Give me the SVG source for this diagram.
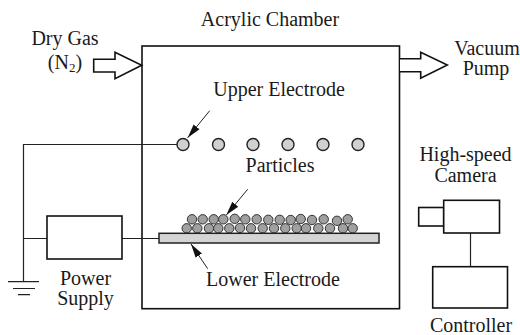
<svg xmlns="http://www.w3.org/2000/svg" width="520" height="335" viewBox="0 0 520 335">
<style>
text{font-family:"Liberation Serif","Times New Roman",serif;font-size:20px;fill:#1a1a1a;text-anchor:middle}
.box{fill:#fff;stroke:#111;stroke-width:1.6}
.line{fill:none;stroke:#222;stroke-width:1.2}
.ue{fill:#d0d0d0;stroke:#222;stroke-width:1.4}
.p{fill:#a0a0a0;stroke:#333;stroke-width:1}
.ptr{fill:none;stroke:#222;stroke-width:1;marker-end:url(#ah)}
</style>
<defs>
<marker id="ah" markerUnits="userSpaceOnUse" markerWidth="16" markerHeight="10" refX="14" refY="5" orient="auto"><path d="M0 1.2L14 5L0 8.8Z" fill="#111"/></marker>
<circle id="pc" r="4.7" class="p"/>
</defs>
<g id="chamber"><rect class="box" x="142" y="46" width="257.5" height="262.7"/><text x="270" y="26">Acrylic Chamber</text></g>
<g id="connectors">
<path class="line" d="M177 144.5H23.5V281.5M23.5 238.5H47M122 238.5H159M470.5 233V266.7"/>
<path class="line" d="M8 281.7H39M13 288.5H35M18 294.6H30"/>
<path class="ptr" d="M209.7 110.7L187.7 137.7"/>
<path class="ptr" d="M247.7 189.3L226.3 215"/>
<path class="ptr" d="M207.7 268.7L191 244"/>
</g>
<g id="dry-gas"><path d="M93.7 59.3H115V52.3L141.7 65.3L115 78.7V72H93.7Z" fill="#fff" stroke="#111" stroke-width="1.6"/><text x="65" y="44.5">Dry Gas</text><text x="65" y="68.5">(N<tspan font-size="13" dy="3">2</tspan><tspan dy="-3">)</tspan></text></g>
<g id="vacuum-pump"><path d="M400 58.7H420.7V52.3L447.3 65L420.7 78.3V71.7H400" fill="#fff" stroke="#111" stroke-width="1.6"/><text x="487" y="55">Vacuum</text><text x="486" y="75">Pump</text></g>
<g id="upper-electrode">
<circle class="ue" cx="183" cy="144.5" r="6"/><circle class="ue" cx="218.5" cy="144.5" r="6"/><circle class="ue" cx="253" cy="144.5" r="6"/><circle class="ue" cx="288" cy="144.5" r="6"/><circle class="ue" cx="323" cy="144.5" r="6"/><circle class="ue" cx="358" cy="144.5" r="6"/>
<text x="279" y="96">Upper Electrode</text></g>
<g id="particles">
<use href="#pc" x="192" y="219.3"/><use href="#pc" x="202.7" y="219.3"/><use href="#pc" x="213.7" y="219.3"/><use href="#pc" x="223.3" y="219.3"/><use href="#pc" x="234.7" y="218.8"/><use href="#pc" x="245.3" y="219.3"/><use href="#pc" x="256.7" y="219.3"/><use href="#pc" x="268.3" y="219.8"/><use href="#pc" x="279.7" y="219.8"/><use href="#pc" x="290.7" y="220"/><use href="#pc" x="300.7" y="219"/><use href="#pc" x="312" y="220"/><use href="#pc" x="323.7" y="219.3"/><use href="#pc" x="337" y="220.8"/><use href="#pc" x="347.7" y="219.3"/>
<use href="#pc" x="186.7" y="228.3"/><use href="#pc" x="197.3" y="228.3"/><use href="#pc" x="209" y="228.3"/><use href="#pc" x="218.3" y="228.3"/><use href="#pc" x="229.3" y="228.3"/><use href="#pc" x="240" y="228"/><use href="#pc" x="251" y="228.3"/><use href="#pc" x="262.7" y="228.3"/><use href="#pc" x="274" y="228.3"/><use href="#pc" x="285.3" y="228.3"/><use href="#pc" x="296.7" y="228.3"/><use href="#pc" x="306" y="228.3"/><use href="#pc" x="318.3" y="228.3"/><use href="#pc" x="330" y="228.3"/><use href="#pc" x="343" y="228.3"/><use href="#pc" x="352.7" y="228.3"/>
<text x="280" y="172">Particles</text></g>
<g id="lower-electrode"><rect x="159" y="233.3" width="220" height="9.7" fill="#d4d4d4" stroke="#222" stroke-width="1.5"/><text x="273" y="286">Lower Electrode</text></g>
<g id="power-supply"><rect class="box" x="47" y="216" width="75" height="43"/><text x="85.5" y="284.5">Power</text><text x="85.5" y="304.5">Supply</text></g>
<g id="camera"><rect class="box" x="418.7" y="207.5" width="25" height="18.5"/><rect class="box" x="443.7" y="200.3" width="55.8" height="32.7"/><text x="465.5" y="161">High-speed</text><text x="465.5" y="181.5">Camera</text></g>
<g id="controller"><rect class="box" x="432.7" y="266.7" width="74.8" height="41.3"/><text x="471" y="332">Controller</text></g>
</svg>
